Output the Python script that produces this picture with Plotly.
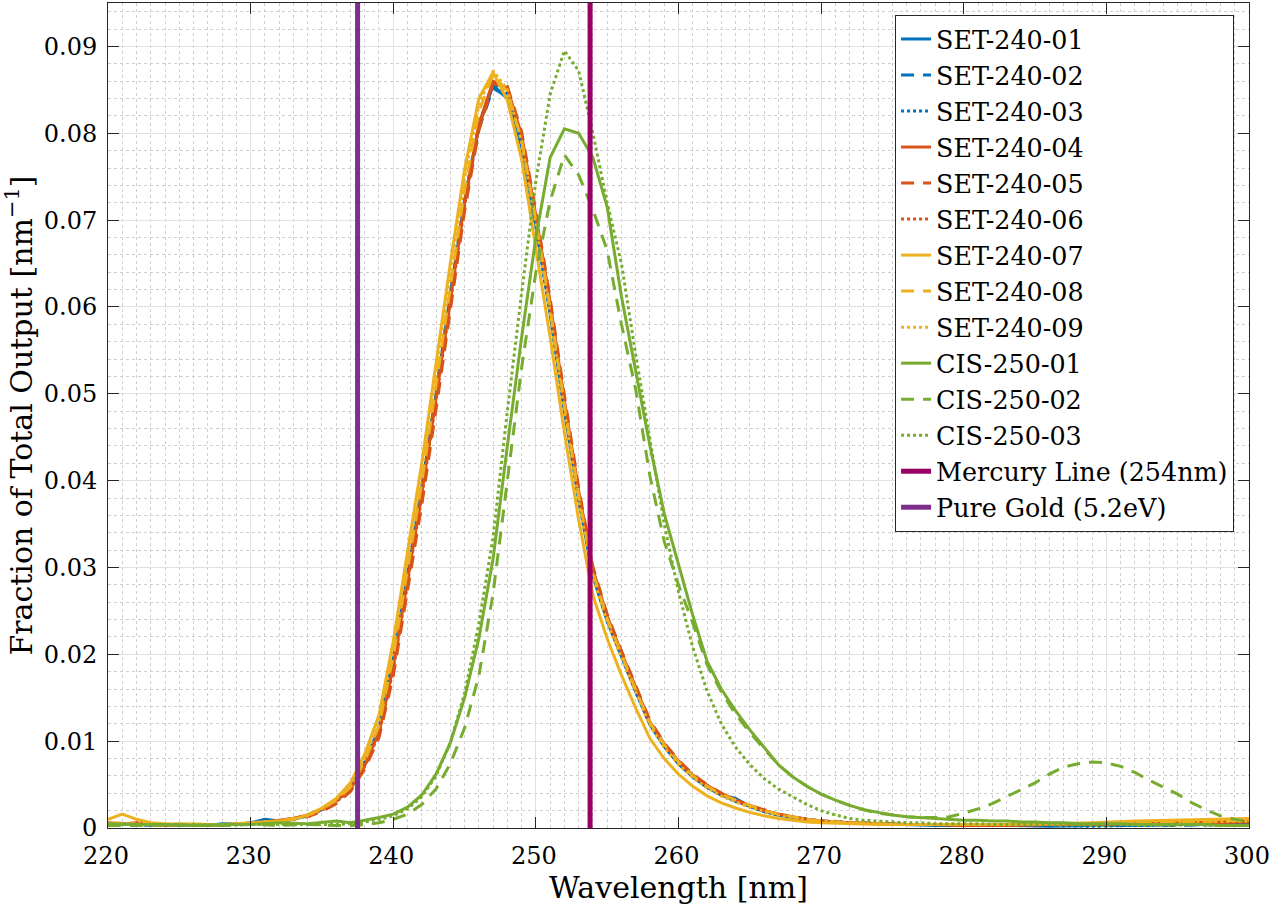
import plotly.graph_objects as go

# ---------------- data ----------------
X_SET = list(range(220, 271)) + [272, 274, 276, 278, 280, 283, 286, 289, 292, 295, 298, 300]

SET_240_01 = [.0005, .0004, .0005, .0003, .0004, .0003, .0004, .0003, .0005, .0004, .0006, .0010, .0008, .0010,
              .0014, .0021, .0031, .0046, .0076, .0115, .0195, .0295, .0392, .0500, .0615, .0722, .0808, .0855,
              .0840, .0785, .0692, .0592, .0480, .0378, .0290, .0238, .0197, .0157, .0119, .0094, .0074, .0059,
              .0047, .0038, .0034, .0025, .0019, .0015, .0012, .0010, .0008,
              .0006, .0005, .0004, .0003, .0003, .0003, .0002, .0003, .0003, .0004, .0004, .0004]
SET_240_02 = [.0004, .0005, .0004, .0004, .0003, .0004, .0003, .0004, .0004, .0005, .0005, .0008, .0009, .0011,
              .0015, .0022, .0032, .0047, .0075, .0113, .0190, .0290, .0388, .0498, .0612, .0720, .0805, .0852,
              .0842, .0788, .0696, .0595, .0484, .0382, .0292, .0240, .0199, .0158, .0120, .0095, .0075, .0060,
              .0048, .0039, .0031, .0025, .0020, .0015, .0012, .0010, .0008,
              .0006, .0005, .0004, .0004, .0003, .0003, .0003, .0003, .0003, .0003, .0004, .0004]
SET_240_03 = [.0004, .0004, .0004, .0003, .0004, .0004, .0003, .0004, .0004, .0004, .0005, .0008, .0008, .0010,
              .0014, .0021, .0031, .0046, .0075, .0114, .0192, .0292, .0390, .0502, .0614, .0724, .0810, .0858,
              .0845, .0790, .0694, .0593, .0482, .0380, .0291, .0239, .0198, .0157, .0119, .0094, .0074, .0059,
              .0047, .0038, .0031, .0025, .0019, .0015, .0012, .0010, .0008,
              .0006, .0005, .0004, .0004, .0003, .0003, .0003, .0002, .0003, .0004, .0004, .0005]
SET_240_04 = [.0006, .0005, .0004, .0004, .0003, .0004, .0004, .0003, .0004, .0005, .0005, .0007, .0009, .0011,
              .0015, .0022, .0031, .0045, .0072, .0110, .0185, .0285, .0385, .0495, .0610, .0720, .0810, .0860,
              .0852, .0798, .0705, .0605, .0492, .0388, .0298, .0244, .0202, .0161, .0122, .0097, .0077, .0061,
              .0049, .0040, .0032, .0026, .0020, .0016, .0013, .0010, .0008,
              .0006, .0005, .0004, .0004, .0003, .0003, .0004, .0004, .0005, .0006, .0007, .0007]
SET_240_05 = [.0005, .0005, .0006, .0004, .0003, .0004, .0003, .0004, .0003, .0004, .0005, .0006, .0008, .0010,
              .0013, .0019, .0028, .0042, .0068, .0104, .0175, .0272, .0372, .0482, .0598, .0710, .0803, .0857,
              .0854, .0802, .0710, .0610, .0498, .0392, .0301, .0246, .0204, .0163, .0124, .0098, .0078, .0062,
              .0050, .0040, .0032, .0026, .0021, .0016, .0013, .0010, .0008,
              .0006, .0005, .0004, .0004, .0003, .0004, .0004, .0005, .0005, .0006, .0007, .0008]
SET_240_06 = [.0005, .0004, .0005, .0004, .0004, .0003, .0004, .0004, .0004, .0004, .0006, .0007, .0008, .0011,
              .0015, .0021, .0030, .0044, .0071, .0108, .0182, .0282, .0382, .0492, .0606, .0716, .0806, .0858,
              .0850, .0796, .0703, .0603, .0490, .0386, .0296, .0243, .0201, .0160, .0121, .0096, .0076, .0060,
              .0049, .0039, .0032, .0026, .0020, .0016, .0013, .0010, .0008,
              .0006, .0005, .0004, .0004, .0004, .0003, .0004, .0004, .0005, .0006, .0007, .0008]
SET_240_07 = [.0010, .0016, .0010, .0006, .0005, .0004, .0005, .0004, .0004, .0005, .0006, .0007, .0008, .0010,
              .0015, .0023, .0034, .0052, .0085, .0130, .0215, .0318, .0420, .0535, .0650, .0758, .0840, .0870,
              .0838, .0770, .0670, .0565, .0455, .0355, .0268, .0218, .0176, .0138, .0103, .0080, .0062, .0048,
              .0037, .0029, .0023, .0018, .0014, .0011, .0009, .0007, .0006,
              .0005, .0004, .0004, .0004, .0004, .0004, .0005, .0006, .0008, .0009, .0010, .0011]
SET_240_08 = [.0005, .0006, .0004, .0003, .0004, .0005, .0004, .0003, .0004, .0004, .0005, .0006, .0008, .0011,
              .0015, .0022, .0032, .0047, .0077, .0118, .0198, .0300, .0398, .0510, .0625, .0735, .0825, .0868,
              .0848, .0792, .0700, .0598, .0487, .0383, .0294, .0241, .0200, .0159, .0121, .0096, .0076, .0060,
              .0048, .0039, .0032, .0026, .0020, .0016, .0013, .0010, .0008,
              .0006, .0005, .0004, .0004, .0004, .0004, .0005, .0005, .0006, .0007, .0008, .0009]
SET_240_09 = [.0004, .0005, .0005, .0004, .0003, .0004, .0004, .0004, .0003, .0004, .0005, .0007, .0008, .0010,
              .0014, .0022, .0033, .0049, .0080, .0122, .0205, .0308, .0408, .0522, .0638, .0748, .0832, .0872,
              .0850, .0790, .0695, .0592, .0480, .0377, .0289, .0237, .0196, .0156, .0118, .0093, .0073, .0058,
              .0046, .0037, .0030, .0024, .0019, .0015, .0012, .0010, .0008,
              .0006, .0005, .0004, .0004, .0004, .0004, .0004, .0005, .0006, .0007, .0008, .0008]

X_CIS = [220, 222, 224, 226, 228, 230, 232, 234] + list(range(236, 301))

CIS_250_01 = [.0005, .0004, .0004, .0003, .0004, .0004, .0006, .0005,
              .0008, .0006, .0009, .0012, .0016, .0024, .0038, .0062, .0098, .0150, .0218, .0310, .0440, .0565,
              .0680, .0772, .0805, .0800, .0772, .0715, .0612, .0528, .0440, .0362, .0302, .0245, .0192, .0160,
              .0135, .0113, .0093, .0073, .0059, .0048, .0039, .0032, .0026, .0021, .0018, .0015, .0013, .0012,
              .0011, .0010, .0009,
              .0009, .0008, .0008, .0007, .0007, .0006, .0006, .0005, .0005, .0005, .0005, .0004, .0004, .0004,
              .0004, .0004, .0004, .0003, .0003, .0003]
CIS_250_02 = [.0003, .0003, .0004, .0003, .0003, .0004, .0003, .0004,
              .0003, .0003, .0004, .0006, .0010, .0016, .0027, .0045, .0074, .0115, .0175, .0270, .0400, .0530,
              .0640, .0722, .0775, .0752, .0712, .0665, .0580, .0505, .0405, .0330, .0280, .0236, .0188, .0157,
              .0131, .0110, .0091, .0073, .0059, .0048, .0039, .0032, .0026, .0021, .0017, .0015, .0013, .0012,
              .0012, .0013, .0017,
              .0022, .0028, .0036, .0044, .0052, .0062, .0070, .0074, .0076, .0075, .0071, .0064, .0055, .0047,
              .0039, .0029, .0021, .0014, .0010, .0007]
CIS_250_03 = [.0004, .0004, .0003, .0004, .0003, .0004, .0004, .0004,
              .0004, .0005, .0007, .0010, .0014, .0022, .0036, .0060, .0098, .0155, .0235, .0335, .0480, .0616,
              .0745, .0845, .0895, .0872, .0800, .0720, .0650, .0545, .0445, .0350, .0272, .0208, .0158, .0120,
              .0093, .0073, .0057, .0045, .0036, .0027, .0020, .0015, .0011, .0009, .0008, .0007, .0006, .0006,
              .0005, .0005, .0005,
              .0005, .0004, .0004, .0004, .0004, .0004, .0003, .0004, .0003, .0003, .0004, .0003, .0003, .0003,
              .0003, .0004, .0003, .0003, .0003, .0003]

MERCURY_NM = 253.8   # mercury line as drawn
GOLD_NM = 237.5      # pure gold work function (5.2 eV) as drawn
Y_RANGE = [0, 0.095]
X_RANGE = [220, 300]

SERIES = [
    ("SET-240-01", X_SET, SET_240_01), ("SET-240-02", X_SET, SET_240_02), ("SET-240-03", X_SET, SET_240_03),
    ("SET-240-04", X_SET, SET_240_04), ("SET-240-05", X_SET, SET_240_05), ("SET-240-06", X_SET, SET_240_06),
    ("SET-240-07", X_SET, SET_240_07), ("SET-240-08", X_SET, SET_240_08), ("SET-240-09", X_SET, SET_240_09),
    ("CIS-250-01", X_CIS, CIS_250_01), ("CIS-250-02", X_CIS, CIS_250_02), ("CIS-250-03", X_CIS, CIS_250_03),
]
COLORS = ["#0072BD"] * 3 + ["#D95319"] * 3 + ["#EDB120"] * 3 + ["#77AC30"] * 3
DASHES = ["solid", "13px,9px", "3px,3px"] * 4

SERIF = "DejaVu Serif"

fig = go.Figure()
for (name, xs, ys), c, d in zip(SERIES, COLORS, DASHES):
    fig.add_trace(go.Scatter(x=xs, y=ys, mode="lines", name=name,
                             line=dict(color=c, width=3, dash=d)))

fig.add_trace(go.Scatter(x=[MERCURY_NM, MERCURY_NM], y=Y_RANGE, mode="lines",
                         name="Mercury Line (254nm)", line=dict(color="#990066", width=5)))
fig.add_trace(go.Scatter(x=[GOLD_NM, GOLD_NM], y=Y_RANGE, mode="lines",
                         name="Pure Gold (5.2eV)", line=dict(color="#7E2F8E", width=5)))

axis_common = dict(
    ticks="inside", ticklen=11, tickwidth=1, tickcolor="#262626",
    showline=True, linecolor="#262626", linewidth=1, mirror="ticks",
    showgrid=True, gridcolor="#e1e1e1", gridwidth=1, zeroline=False,
    tickfont=dict(family=SERIF, size=24, color="black"),
    ticklabeloverflow="allow",
)

fig.update_xaxes(range=X_RANGE, tick0=220, dtick=10,
                 minor=dict(dtick=1, showgrid=True, gridcolor="#cfcfcf", griddash="dot", gridwidth=1, ticks=""),
                 title=dict(text="Wavelength [nm]", font=dict(family=SERIF, size=30, color="black"), standoff=5),
                 ticklabelstandoff=6, ticklabelshift=-2,
                 **axis_common)
fig.update_yaxes(range=Y_RANGE, tick0=0, dtick=0.01,
                 minor=dict(dtick=0.002, showgrid=True, gridcolor="#cfcfcf", griddash="dot", gridwidth=1, ticks=""),
                 title=dict(text="Fraction of Total Output [nm<sup>\u22121</sup>]",
                            font=dict(family=SERIF, size=30, color="black"), standoff=12),
                 ticklabelstandoff=5,
                 **axis_common)

fig.update_layout(
    width=1271, height=913,
    margin=dict(l=108, r=22, t=3, b=85, autoexpand=False),
    plot_bgcolor="white", paper_bgcolor="white",
    font=dict(family=SERIF, color="black"),
    legend=dict(x=0.9869, y=0.9855, xanchor="right", yanchor="top",
                bgcolor="white", bordercolor="#262626", borderwidth=1,
                font=dict(family=SERIF, size=25.4, color="black"),
                tracegroupgap=0, itemwidth=30),
    showlegend=True,
)

fig.write_html("out.html")
